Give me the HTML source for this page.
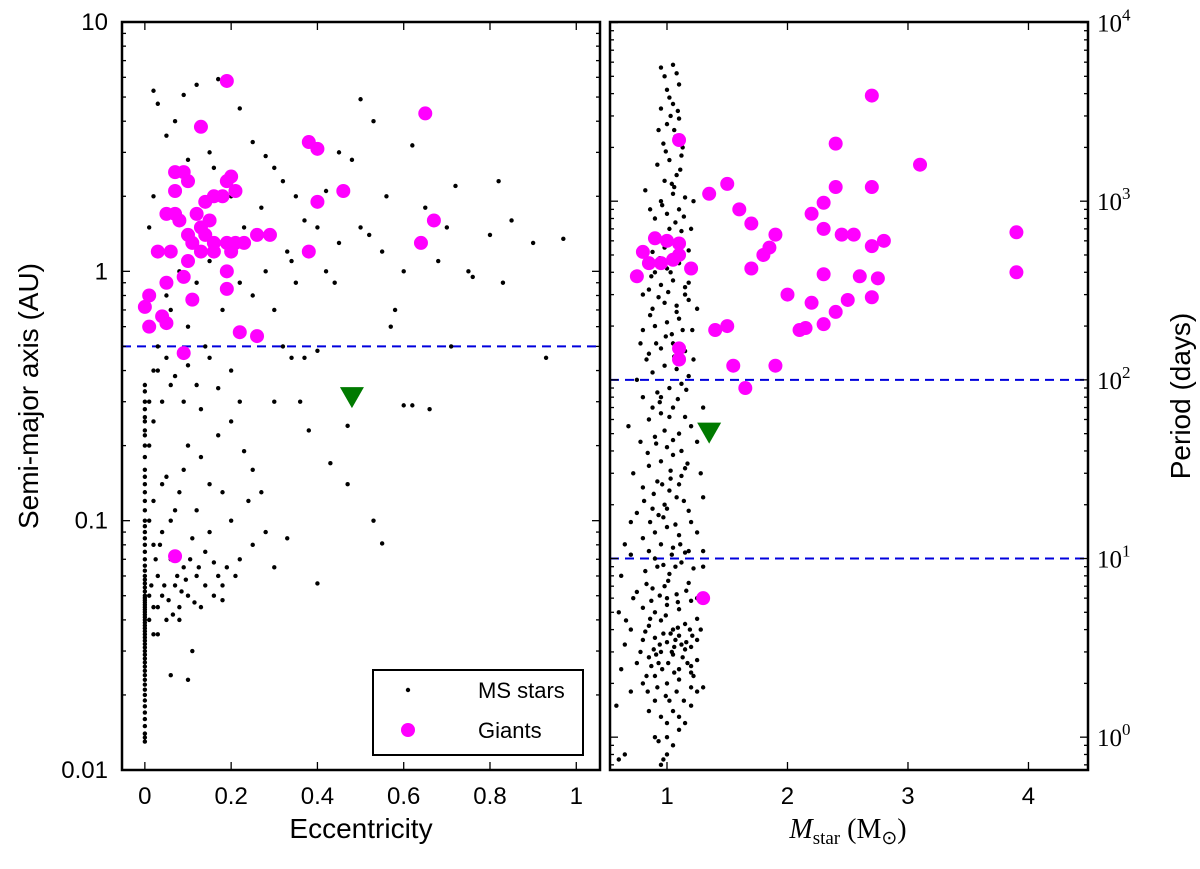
<!DOCTYPE html>
<html><head><meta charset="utf-8"><style>
body{margin:0;background:#fff}
svg text{font-family:"Liberation Sans",sans-serif}
.serif{font-family:"Liberation Serif",serif}
</style></head><body>
<svg id="c" width="1200" height="864" xmlns="http://www.w3.org/2000/svg"></svg>
<script>
const giantsLeft=[[0.19,5.8],[0.65,4.3],[0.13,3.8],[0.38,3.3],[0.40,3.1],[0.07,2.5],[0.09,2.5],[0.10,2.3],[0.19,2.3],[0.20,2.4],[0.07,2.1],[0.16,2.0],[0.18,2.0],[0.21,2.1],[0.46,2.1],[0.14,1.9],[0.40,1.9],[0.05,1.7],[0.07,1.7],[0.08,1.6],[0.12,1.7],[0.13,1.5],[0.15,1.6],[0.67,1.6],[0.10,1.4],[0.14,1.4],[0.29,1.4],[0.26,1.4],[0.16,1.3],[0.19,1.3],[0.21,1.3],[0.23,1.3],[0.11,1.3],[0.64,1.3],[0.03,1.2],[0.06,1.2],[0.13,1.2],[0.16,1.2],[0.20,1.2],[0.38,1.2],[0.10,1.1],[0.19,1.0],[0.09,0.95],[0.05,0.9],[0.19,0.85],[0.01,0.8],[0.11,0.77],[0.04,0.66],[0.00,0.72],[0.01,0.6],[0.05,0.62],[0.22,0.57],[0.26,0.55],[0.09,0.47],[0.07,0.072]];
const giantsRight=[[1.1,2200],[2.7,3900],[2.4,2100],[3.1,1600],[2.7,1200],[1.35,1100],[1.5,1250],[2.4,1200],[1.6,900],[2.2,850],[2.3,980],[1.7,750],[2.3,700],[2.45,650],[2.55,650],[1.0,600],[0.9,620],[0.8,520],[1.1,580],[1.9,650],[1.85,550],[1.8,500],[2.7,560],[2.8,600],[3.9,670],[0.75,380],[0.85,450],[0.95,450],[1.05,470],[1.1,500],[1.2,420],[1.7,420],[2.3,390],[2.6,380],[2.75,370],[3.9,400],[2.0,300],[2.2,270],[2.5,280],[2.7,290],[2.4,240],[1.5,200],[1.4,190],[2.1,190],[2.15,195],[2.3,205],[1.1,150],[1.1,130],[1.9,120],[1.55,120],[1.65,90],[1.3,6]];
const trendLeft=[[0.48,0.31]];
const trendRight=[[1.35,50]];
const msLeftZeroA=[0.013,0.0135,0.014,0.015,0.016,0.017,0.018,0.019,0.02,0.021,0.022,0.023,0.024,0.025,0.026,0.027,0.028,0.029,0.03,0.031,0.032,0.033,0.034,0.035,0.036,0.037,0.038,0.039,0.04,0.041,0.042,0.043,0.044,0.045,0.046,0.047,0.048,0.049,0.05,0.052,0.054,0.056,0.058,0.06,0.063,0.066,0.07,0.075,0.08,0.085,0.09,0.095,0.1,0.11,0.12,0.13,0.14,0.15,0.16,0.18,0.2,0.22,0.23,0.25,0.26,0.28,0.3,0.33,0.35];
const msLeft=[[0.01,0.05],[0.02,0.045],[0.03,0.06],[0.04,0.05],[0.05,0.04],[0.06,0.07],[0.07,0.055],[0.08,0.045],[0.09,0.065],[0.1,0.05],[0.12,0.06],[0.14,0.075],[0.15,0.09],[0.17,0.06],[0.2,0.1],[0.22,0.07],[0.25,0.08],[0.3,0.065],[0.33,0.085],[0.4,0.056],[0.55,0.081],[0.53,0.1],[0.02,0.12],[0.05,0.15],[0.08,0.13],[0.1,0.2],[0.13,0.18],[0.18,0.13],[0.2,0.25],[0.25,0.16],[0.3,0.3],[0.38,0.23],[0.43,0.17],[0.47,0.14],[0.47,0.24],[0.6,0.29],[0.62,0.29],[0.66,0.28],[0.34,0.45],[0.4,0.48],[0.57,0.6],[0.71,0.5],[0.93,0.45],[0.02,0.25],[0.04,0.3],[0.06,0.35],[0.15,0.45],[0.2,0.4],[0.03,0.5],[0.05,0.8],[0.08,1.0],[0.1,0.6],[0.12,0.9],[0.15,1.1],[0.18,0.7],[0.22,0.9],[0.25,0.8],[0.28,1.0],[0.3,0.7],[0.33,1.2],[0.35,0.9],[0.4,1.5],[0.42,1.0],[0.45,1.3],[0.5,1.5],[0.55,1.2],[0.6,1.0],[0.65,1.8],[0.7,1.5],[0.75,1.0],[0.8,1.4],[0.83,0.9],[0.85,1.6],[0.9,1.3],[0.97,1.35],[0.72,2.2],[0.82,2.3],[0.62,3.2],[0.5,4.9],[0.53,4.0],[0.45,3.0],[0.35,2.0],[0.3,2.6],[0.25,3.3],[0.22,4.5],[0.17,5.9],[0.12,5.6],[0.09,5.1],[0.02,5.3],[0.03,4.7],[0.05,3.5],[0.07,4.0],[0.1,2.8],[0.15,3.0],[0.2,2.0],[0.27,1.8],[0.32,2.3],[0.37,1.6],[0.42,2.1],[0.48,2.8],[0.52,1.4],[0.56,2.0],[0.01,1.5],[0.02,2.0],[0.04,1.2],[0.06,0.7],[0.14,0.5],[0.26,0.55],[0.32,0.5],[0.37,0.45],[0.16,2.6],[0.23,1.5],[0.28,2.9],[0.34,1.1],[0.44,0.9],[0.58,0.7],[0.68,1.1],[0.76,0.95],[0.06,0.024],[0.1,0.023],[0.03,0.035],[0.08,0.04],[0.11,0.03],[0.13,0.045],[0.16,0.05],[0.18,0.055],[0.04,0.09],[0.07,0.11],[0.11,0.085],[0.19,0.065],[0.24,0.12],[0.28,0.09],[0.36,0.3],[0.01,0.2],[0.03,0.4],[0.09,0.3],[0.12,0.35],[0.22,0.3],[0.01,0.04],[0.015,0.055],[0.02,0.035],[0.025,0.07],[0.03,0.045],[0.035,0.08],[0.045,0.055],[0.055,0.048],[0.065,0.042],[0.075,0.06],[0.085,0.052],[0.095,0.058],[0.105,0.07],[0.115,0.047],[0.125,0.065],[0.14,0.055],[0.16,0.068],[0.18,0.048],[0.21,0.06],[0.01,0.1],[0.02,0.08],[0.04,0.14],[0.06,0.1],[0.09,0.16],[0.12,0.11],[0.15,0.14],[0.17,0.22],[0.23,0.19],[0.27,0.13],[0.01,0.3],[0.02,0.4],[0.05,0.45],[0.07,0.38],[0.1,0.42],[0.13,0.28],[0.17,0.34]];
const msRight=[[0.6,0.75],[0.65,0.8],[0.95,0.7],[0.97,0.75],[1.0,0.8],[0.95,1.3],[1.0,1.2],[1.05,1.4],[1.1,1.3],[1.15,1.2],[1.2,1.5],[0.85,1.4],[0.9,1.6],[0.7,1.8],[0.8,2.0],[0.9,2.2],[1.0,2.0],[1.1,2.1],[1.2,2.3],[1.25,1.8],[0.75,2.6],[0.85,2.8],[0.95,3.0],[1.05,2.9],[1.15,3.1],[1.25,2.7],[0.65,3.3],[0.8,3.5],[0.9,3.6],[1.0,3.4],[1.1,3.7],[1.2,3.2],[0.7,4.0],[0.85,4.2],[0.95,4.5],[1.05,4.0],[1.15,4.3],[1.25,4.6],[0.6,5.0],[0.8,5.3],[0.9,5.0],[1.0,5.5],[1.1,5.2],[1.2,5.8],[0.75,6.5],[0.88,6.8],[0.98,7.0],[1.08,6.3],[1.18,7.3],[0.62,8],[0.82,8.5],[0.92,9],[1.02,8.2],[1.12,9.5],[1.22,8.8],[0.7,10.5],[0.85,11],[0.95,12],[1.05,11.5],[1.15,10.8],[0.8,13],[0.9,14],[1.0,15],[1.1,13.5],[1.2,16],[0.75,18],[0.88,19],[0.98,20],[1.08,22],[1.18,18.5],[0.8,25],[0.92,27],[1.02,24],[1.12,29],[0.85,33],[0.95,35],[1.05,38],[1.15,32],[0.78,45],[0.9,48],[1.0,42],[1.1,50],[1.2,55],[0.85,60],[0.95,65],[1.05,70],[1.15,62],[0.8,80],[0.92,85],[1.02,90],[1.12,95],[0.88,110],[0.98,120],[1.08,115],[1.18,105],[0.85,140],[0.95,150],[1.05,160],[1.15,145],[0.8,190],[0.9,200],[1.0,210],[1.1,220],[0.88,250],[0.98,270],[1.08,260],[1.18,280],[0.85,320],[0.95,340],[1.05,360],[1.15,330],[0.9,400],[1.0,420],[1.1,450],[0.88,520],[0.98,550],[1.08,580],[1.18,530],[0.92,650],[1.02,700],[1.12,680],[0.9,800],[1.0,850],[1.1,900],[0.95,1000],[1.05,1100],[1.15,1050],[0.98,1300],[1.08,1400],[0.92,1600],[1.02,1700],[1.12,1800],[0.97,2100],[1.07,2300],[1.0,2700],[1.1,2900],[0.95,3300],[1.05,3500],[1.0,4200],[1.1,4500],[0.98,5000],[1.08,5200],[1.03,3000],[0.93,2500],[1.13,2000],[1.0,1.0],[1.05,0.9],[0.9,1.0],[1.1,1.1],[1.2,2.5],[1.25,3.5],[1.25,6],[1.3,9],[1.25,14],[1.3,22],[0.7,16],[0.65,12],[0.72,30],[0.68,55],[0.75,100],[1.25,45],[1.22,130],[1.25,250],[1.3,1.9],[0.93,0.95],[1.02,1.6],[0.96,2.4],[1.06,3.2],[1.0,6],[1.07,9],[0.97,17],[1.03,28],[0.94,75],[1.04,180],[0.96,440],[1.06,1200],
[0.83,2.2],[0.87,2.5],[0.91,2.9],[0.94,3.3],[0.97,3.8],[1.01,2.6],[1.04,3.0],[1.07,3.5],[1.1,2.4],[1.13,2.8],[1.16,3.4],[1.19,4.0],[1.22,2.2],[0.82,3.9],[0.86,4.6],[0.89,3.1],[0.93,2.6],[0.99,4.8],[1.03,3.8],[1.06,2.3],[1.09,4.1],[1.12,3.3],[1.17,2.6],[1.21,3.7],[0.78,3.0],[0.84,1.8],[0.92,1.9],[0.99,1.7],[1.08,1.8],[1.14,1.6],[1.2,1.9],[0.87,5.8],[0.94,6.2],[1.01,7.5],[1.09,5.7],[1.16,6.6],[0.83,7.2],[0.9,10],[0.97,9.2],[1.04,10.5],[1.11,12],[1.18,11],[0.86,16],[0.93,17.5],[1.0,19],[1.07,15.5],[1.14,21],[0.81,21],[0.89,23],[0.96,26],[1.03,31],[1.1,26],[1.17,34],[0.84,39],[0.91,44],[0.98,52],[1.05,46],[1.12,40],[0.88,70],[0.95,80],[1.02,62],[1.09,78],[1.16,88],[0.83,130],[0.91,160],[0.99,175],[1.06,135],[1.13,190],[0.86,230],[0.93,290],[1.01,310],[1.08,240],[1.15,300],[0.87,380],[0.94,480],[1.03,400],[1.1,480],[0.91,600],[0.99,620],[1.07,760],[1.14,820],[0.96,950],[1.04,1250],[1.11,1500],[0.99,1900],[1.06,2500],[1.02,3800],[1.09,3200],[1.05,5800],[0.95,5600],[1.2,700],[1.22,1000],[0.82,1150],[0.86,900],[1.18,350],[1.21,190],[0.78,160],[0.8,300],[0.72,6],[0.66,4.5],[0.62,2.4],[0.58,1.5],[1.28,4],[1.3,11],[1.28,30],[1.3,70]];

const svg=document.getElementById('c');const NS='http://www.w3.org/2000/svg';
function mk(tag,attrs,parent){const e=document.createElementNS(NS,tag);for(const k in attrs)e.setAttribute(k,attrs[k]);(parent||svg).appendChild(e);return e;}
const T=22,B=770;
const L={x0:122,x1:600,xmin:-0.053,xmax:1.055,lmin:-2,lmax:1};
const R={x0:610,x1:1088,xmin:0.527,xmax:4.494,lmin:Math.log10(0.655),lmax:4.003};
const lx=v=>L.x0+(v-L.xmin)/(L.xmax-L.xmin)*(L.x1-L.x0);
const ly=v=>B-(Math.log10(v)-L.lmin)/(L.lmax-L.lmin)*(B-T);
const rx=v=>R.x0+(v-R.xmin)/(R.xmax-R.xmin)*(R.x1-R.x0);
const ry=v=>B-(Math.log10(v)-R.lmin)/(R.lmax-R.lmin)*(B-T);

function line(x1,y1,x2,y2,extra){return mk('line',Object.assign({x1,y1,x2,y2,stroke:'#000','stroke-width':1.3},extra||{}));}
const defs=mk('defs',{});
const c1=mk('clipPath',{id:'cl'},defs);mk('rect',{x:L.x0,y:T,width:L.x1-L.x0,height:B-T},c1);
const c2=mk('clipPath',{id:'cr'},defs);mk('rect',{x:R.x0,y:T,width:R.x1-R.x0,height:B-T},c2);
const gl=mk('g',{'clip-path':'url(#cl)'});
const gr=mk('g',{'clip-path':'url(#cr)'});

let d=mk('line',{x1:L.x0,x2:L.x1,y1:ly(0.5),y2:ly(0.5),stroke:'#0000dd','stroke-width':2,'stroke-dasharray':'9,6'},gl);

[100,10].forEach(p=>{const e=mk('line',{x1:R.x0,x2:R.x1,y1:ry(p),y2:ry(p),stroke:'#0000dd','stroke-width':2,'stroke-dasharray':'9,6'},gr);
});

const DR=2.2;
msLeftZeroA.forEach(a=>{const e=mk('circle',{cx:lx(0),cy:ly(a),r:DR,fill:'#000'},gl);});
msLeft.forEach(p=>{const e=mk('circle',{cx:lx(p[0]),cy:ly(p[1]),r:DR,fill:'#000'},gl);});
msRight.forEach(p=>{const e=mk('circle',{cx:rx(p[0]),cy:ry(p[1]),r:DR,fill:'#000'},gr);});
giantsLeft.forEach(p=>{const e=mk('circle',{cx:lx(p[0]),cy:ly(p[1]),r:7,fill:'#ff00ff'},gl);});
giantsRight.forEach(p=>{const e=mk('circle',{cx:rx(p[0]),cy:ry(p[1]),r:7,fill:'#ff00ff'},gr);});
function tri(g,x,y){const e=mk('polygon',{points:`${x-12},${y-11} ${x+12},${y-11} ${x},${y+10}`,fill:'#007a00'},g);}
trendLeft.forEach(p=>tri(gl,lx(p[0]),ly(p[1])));
trendRight.forEach(p=>tri(gr,rx(p[0]),ry(p[1])));

[[L,'left-frame'],[R,'right-frame']].forEach(([P,n])=>{const e=mk('rect',{x:P.x0,y:T,width:P.x1-P.x0,height:B-T,fill:'none',stroke:'#000','stroke-width':2.5});});

const lxTicks=[0,0.2,0.4,0.6,0.8,1];const lxLabels=['0','0.2','0.4','0.6','0.8','1'];
lxTicks.forEach((v,i)=>{const x=lx(v);line(x,B,x,B-8);line(x,T,x,T+8);
const t=mk('text',{x,y:B+34,'font-size':24,'text-anchor':'middle'});t.textContent=lxLabels[i];});
const rxTicks=[1,2,3,4];const rxLabels=['1','2','3','4'];
rxTicks.forEach((v,i)=>{const x=rx(v);line(x,B,x,B-8);line(x,T,x,T+8);
const t=mk('text',{x,y:B+34,'font-size':24,'text-anchor':'middle'});t.textContent=rxLabels[i];});
const lyTicks=[10,1,0.1,0.01];const lyLabels=['10','1','0.1','0.01'];
lyTicks.forEach((v,i)=>{const y=ly(v);line(L.x0,y,L.x0+8,y);line(L.x1,y,L.x1-8,y);
const t=mk('text',{x:108,y:y+8,'font-size':24,'text-anchor':'end'});t.textContent=lyLabels[i];});
for(let dec=-2;dec<1;dec++)for(let m=2;m<10;m++){const y=ly(m*Math.pow(10,dec));line(L.x0,y,L.x0+4,y);line(L.x1,y,L.x1-4,y);}
const ryTicks=[1,10,100,1000,10000];const ryExp=['0','1','2','3','4'];
ryTicks.forEach((v,i)=>{const y=ry(v);line(R.x1,y,R.x1-8,y);line(R.x0,y,R.x0+8,y);
const t=mk('text',{x:1097,y:y+9,'font-size':25,'class':'serif'});t.textContent='10';
const s=mk('tspan',{dy:-11,'font-size':17},t);s.textContent=ryExp[i];
});
for(let dec=-1;dec<4;dec++)for(let m=2;m<10;m++){const v=m*Math.pow(10,dec);if(v<0.655||v>10000)continue;const y=ry(v);line(R.x1,y,R.x1-4,y);line(R.x0,y,R.x0+4,y);}

let t=mk('text',{x:361,y:838,'font-size':28,'text-anchor':'middle'});t.textContent='Eccentricity';
t=mk('text',{x:848,y:838,'font-size':28,'text-anchor':'middle','class':'serif'});
let s=mk('tspan',{'font-style':'italic'},t);s.textContent='M';s=mk('tspan',{'font-size':19,dy:6},t);s.textContent='star';s=mk('tspan',{dy:-6},t);s.textContent=' (M';s=mk('tspan',{'font-size':19,dy:6},t);s.textContent='⊙';s=mk('tspan',{dy:-6},t);s.textContent=')';
t=mk('text',{x:0,y:0,'font-size':28,'text-anchor':'middle',transform:'translate(38,396) rotate(-90)'});t.textContent='Semi-major axis (AU)';
t=mk('text',{x:0,y:0,'font-size':28,'text-anchor':'middle',transform:'translate(1190,396) rotate(-90)'});t.textContent='Period (days)';

const lg=mk('g',{});
mk('rect',{x:373,y:670,width:210,height:85,fill:'#fff',stroke:'#000','stroke-width':2},lg);
mk('circle',{cx:408,cy:690,r:2.2,fill:'#000'},lg);
t=mk('text',{x:478,y:698,'font-size':22},lg);t.textContent='MS stars';
mk('circle',{cx:408,cy:730,r:7,fill:'#ff00ff'},lg);
t=mk('text',{x:478,y:738,'font-size':22},lg);t.textContent='Giants';
</script>
</body></html>
